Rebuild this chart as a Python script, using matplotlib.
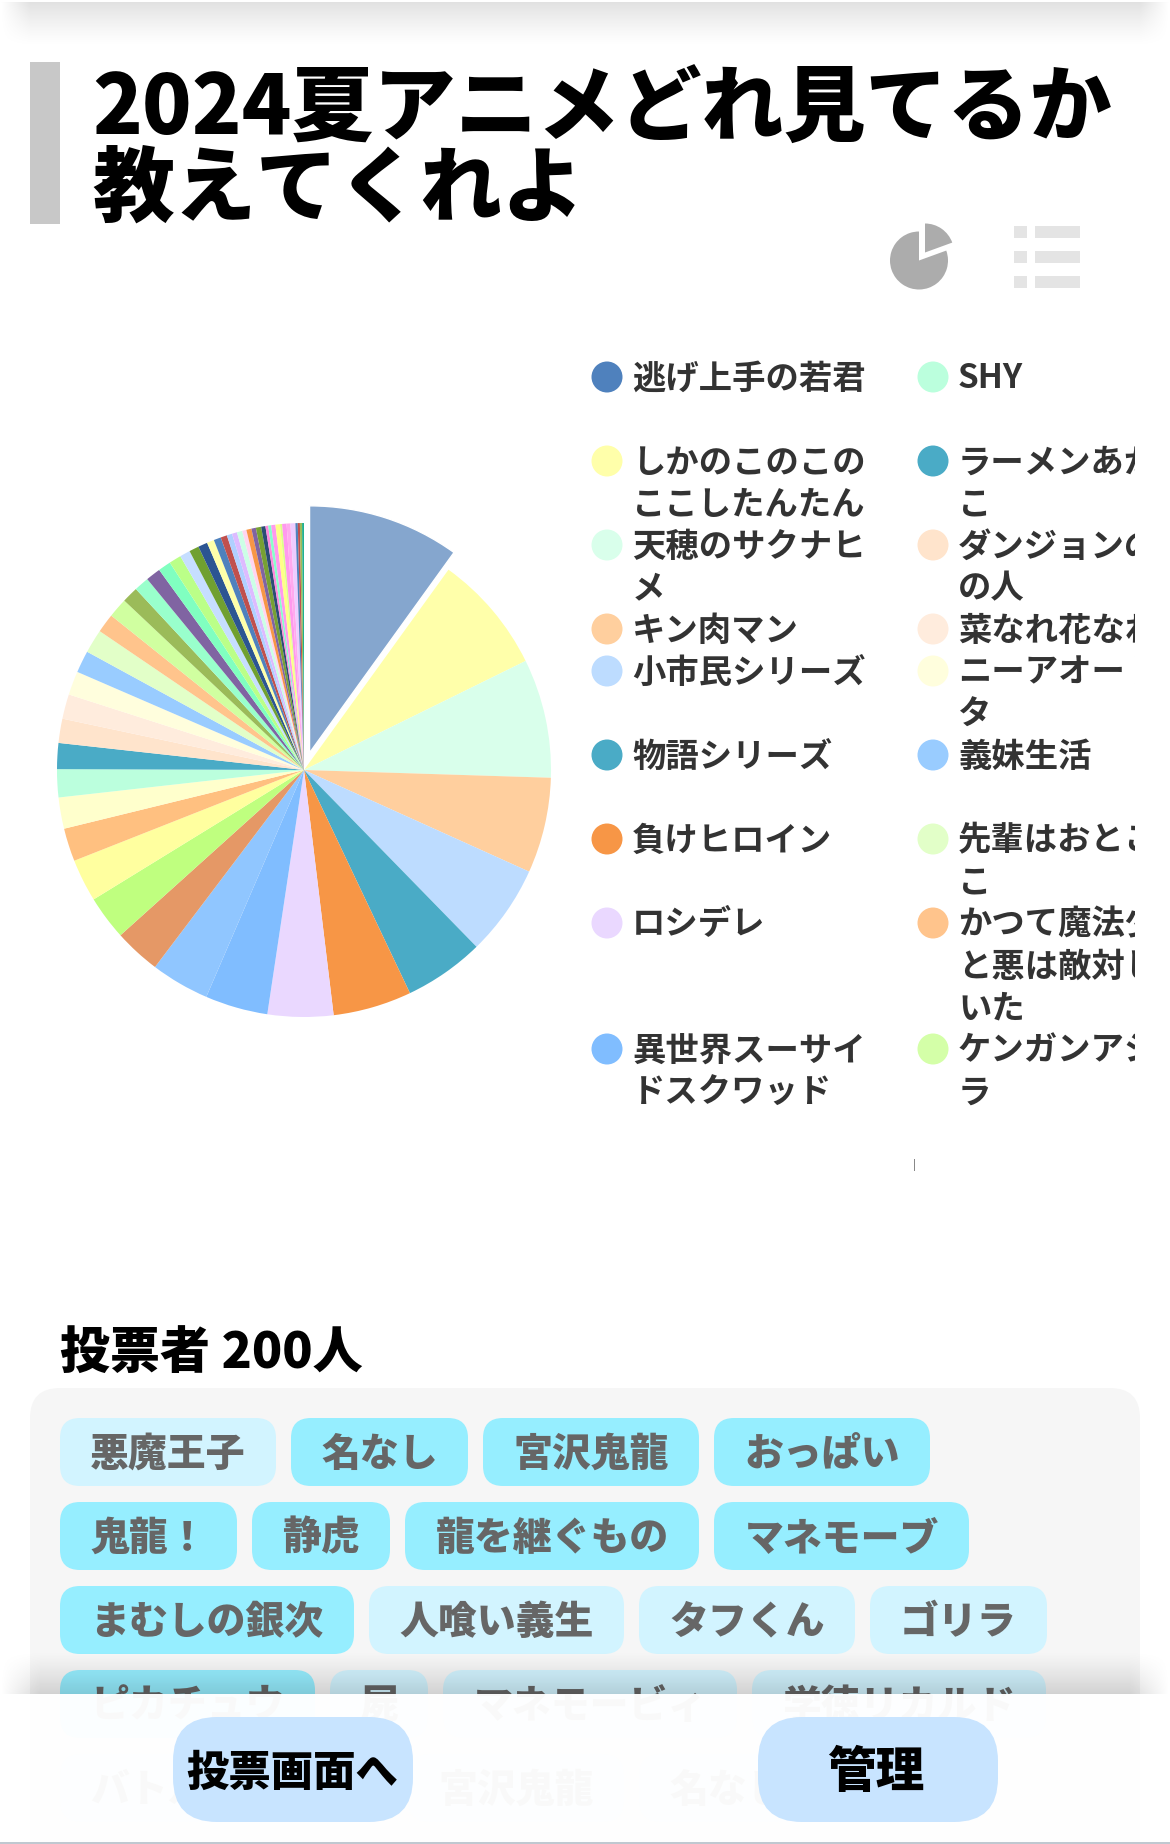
import matplotlib
matplotlib.use("Agg")
import matplotlib.pyplot as plt
from matplotlib.patches import Ellipse, FancyBboxPatch, Rectangle, Wedge
import numpy as np

plt.rcParams['font.family'] = ['Noto Sans CJK JP', 'DejaVu Sans']

W, H = 1170, 1844
title_lines = ["2024夏アニメどれ見てるか", "教えてくれよ"]
shares = [35.8, 28.0, 28.0, 22.5, 21.4, 18.9, 18.5, 15.45, 14.75, 13.8, 10.9, 10.4, 10.05, 7.8, 7.35,
          6.6, 6.1, 5.7, 5.8, 5.6, 5.2, 5.6, 4.5, 4.6, 3.8, 3.5, 3.5, 3.0, 2.85, 2.45, 2.3, 2.2, 1.7, 1.7, 1.5,
          1.25, 1.2, 1.25, 1.0, 1.2, 1.05, 1.25, 1.0, 0.65, 0.7, 1.0, 1.05, 0.5, 1.05, 0.9, 1.15, 0.55, 0.5, 0.5, 0.45]
colors = ['#85A6CE', '#FFFFAA', '#D9FFEB', '#FFCF9E', '#BDDCFF', '#4AABC6', '#F79646', '#EAD8FF', '#80BDFF', '#90C6FF',
          '#E59866', '#BFFF7F', '#FFFF9F', '#FFC080', '#FFFFCC', '#BBFFDD', '#4AABC6', '#FFE4CC', '#FFECDD', '#FFFEDD',
          '#99CCFF', '#E2FFC8', '#FFC48C', '#D0FFA0', '#9BBB59', '#99FFCC', '#8064A2', '#80FFC0', '#BBFF88', '#C6DEFF',
          '#70A030', '#2C5592', '#FFFFAA', '#4F81BD', '#C0504D', '#B0D0FF', '#DDBBFF', '#CCFFE6', '#FFD6F0', '#F79646',
          '#8064A2', '#77A033', '#2C4D75', '#FF88DD', '#88FFCC', '#FF99EE', '#FFFF88', '#DDFF88', '#FF99EE', '#FFAAEE',
          '#EECCFF', '#4F81BD', '#C0504D', '#9BBB59', '#20B090']
legend_left = [("#4F81BD", ["逃げ上手の若君"]), ("#FFFFAA", ["しかのこのこの", "ここしたんたん"]), ("#D9FFEB", ["天穂のサクナヒ", "メ"]),
               ("#FFCF9E", ["キン肉マン"]), ("#BDDCFF", ["小市民シリーズ"]), ("#4AABC6", ["物語シリーズ"]),
               ("#F79646", ["負けヒロイン"]), ("#EAD8FF", ["ロシデレ"]), ("#80BDFF", ["異世界スーサイ", "ドスクワッド"])]
legend_right = [("#BBFFDD", ["SHY"]), ("#4AABC6", ["ラーメンあか", "こ"]), ("#FFE4CC", ["ダンジョンの", "の人"]),
                ("#FFECDD", ["菜なれ花なれ"]), ("#FFFEDD", ["ニーアオートマ", "タ"]), ("#99CCFF", ["義妹生活"]),
                ("#E2FFC8", ["先輩はおとこ", "こ"]), ("#FFC48C", ["かつて魔法少", "と悪は敵対し", "いた"]), ("#D4FFA8", ["ケンガンアシュ", "ラ"])]
legend_rows = [377, 461, 545, 629, 671, 755, 839, 923, 1049]
voter_title = "投票者 200人"
chip_rows = [[("悪魔王子", 0), ("名なし", 1), ("宮沢鬼龍", 1), ("おっぱい", 1)],
             [("鬼龍！", 1), ("静虎", 1), ("龍を継ぐもの", 1), ("マネモーブ", 1)],
             [("まむしの銀次", 1), ("人喰い義生", 0), ("タフくん", 0), ("ゴリラ", 0)],
             [("ピカチュウ", 1), ("屍", 0), ("マネモービィ", 0), ("学徳リカルド", 0)],
             [("バトルマスター", 0), ("宮沢鬼龍", 0), ("名なし", 0)]]
chip_width = [[216, 177, 216, 216], [177, 138, 294, 255], [294, 255, 216, 177], [255, 98, 294, 294], [333, 216, 177]]
buttons = [("投票画面へ", 173, 413), ("管理", 758, 998)]

fig = plt.figure(figsize=(W / 100, H / 100), dpi=100, facecolor='white')
bg = fig.add_axes([0, 0, 1, 1])
bg.set_xlim(0, W)
bg.set_ylim(H, 0)
bg.axis('off')


def shadow(y0, y1, peak, rising, side):
    ramp = np.linspace(0, 1, 60)
    if not rising:
        ramp = ramp[::-1]
    xs = np.clip(np.minimum(np.arange(W), W - 1 - np.arange(W)) / side, 0, 1)
    img = np.zeros((60, W, 4))
    img[..., 3] = peak * np.outer(ramp ** 1.3, xs)
    return bg.imshow(img, extent=(0, W, y1, y0), aspect='auto', zorder=5, interpolation='bilinear')


# top shadow
shadow(2, 48, 0.12, False, 30)
bg.set_xlim(0, W)
bg.set_ylim(H, 0)

# title
bg.add_patch(Rectangle((30, 62), 30, 162, color='#C8C8C8', lw=0))
bg.text(92, 110, title_lines[0], fontsize=59, fontweight='black', va='center', color='black')
bg.text(92, 190, title_lines[1], fontsize=59, fontweight='black', va='center', color='black')

# view icons
bg.add_patch(Wedge((919, 260.5), 29, -20, 270, color='#ACACAC', lw=0))
bg.add_patch(Wedge((925, 252.5), 29, -90, -20, color='#ACACAC', lw=0))
for y in [226, 251, 276]:
    bg.add_patch(Rectangle((1014, y), 13, 12, color='#E4E4E4', lw=0))
    bg.add_patch(Rectangle((1035, y), 45, 12, color='#E4E4E4', lw=0))

# pie
R = 247
cx, cy = 304, 770
pie_ax = fig.add_axes([(cx - R * 1.1) / W, 1 - (cy + R * 1.1) / H, 2.2 * R / W, 2.2 * R / H])
explode = [0.073] + [0] * (len(shares) - 1)
wedges, _ = pie_ax.pie(shares, colors=colors, startangle=90, counterclock=False, explode=explode, radius=1.0,
                       wedgeprops=dict(linewidth=0))
wedges[0].set_edgecolor('white')
wedges[0].set_linewidth(1)
pie_ax.set_xlim(-1.1, 1.1)
pie_ax.set_ylim(-1.1, 1.1)

# legend
clip = Rectangle((570, 340), 564.5, 900, transform=bg.transData)
for col, x_dot, x_txt in [(legend_left, 607, 632), (legend_right, 933, 958)]:
    for (c, lines), y in zip(col, legend_rows):
        bg.add_patch(Ellipse((x_dot, y), 31, 31, color=c, lw=0))
        for i, line in enumerate(lines):
            t = bg.text(x_txt, y + 2 + i * 42, line, fontsize=24, fontweight='bold', va='center', color='#333333',
                        clip_on=True)
            t.set_clip_path(clip)
bg.add_patch(Rectangle((913.5, 1159), 1.5, 12, color='#888888', lw=0))

# voters
bg.text(60, 1354, voter_title, fontsize=36, fontweight='black', va='center', color='black')
bg.add_patch(FancyBboxPatch((30, 1388), 1110, 520, boxstyle="round,pad=0,rounding_size=30", fc='#F6F6F6', ec='none'))
ys = [1418, 1502, 1586, 1670, 1754]
for row, widths, y in zip(chip_rows, chip_width, ys):
    x = 60
    for (name, on), w in zip(row, widths):
        fc = '#96EEFF' if on else '#D2F4FF'
        bg.add_patch(FancyBboxPatch((x, y), w, 68, boxstyle="round,pad=0,rounding_size=20", fc=fc, ec='none', zorder=2))
        bg.text(x + w / 2, y + 36, name, fontsize=28, fontweight='black', ha='center', va='center', color='#666666', zorder=3)
        x += w + 15

# bottom bar
shadow(1650, 1694, 0.15, True, 40)
bg.set_xlim(0, W)
bg.set_ylim(H, 0)
bg.add_patch(Rectangle((0, 1694), W, 150, fc='white', alpha=0.97, lw=0, zorder=6))
for label, x0, x1 in buttons:
    bg.add_patch(FancyBboxPatch((x0, 1717), x1 - x0, 105, boxstyle="round,pad=0,rounding_size=44", fc='#C8E4FF', ec='none', zorder=7))
    size = 30.5 if len(label) > 2 else 35
    bg.text((x0 + x1) / 2 - (1 if len(label) > 2 else 2), 1773, label, fontsize=size, fontweight='black', ha='center', va='center', color='black', zorder=8)
bg.add_patch(Rectangle((0, 1842), W, 2, color='#C0C8D0', lw=0, zorder=9))

fig.savefig('out.png', dpi=100)
